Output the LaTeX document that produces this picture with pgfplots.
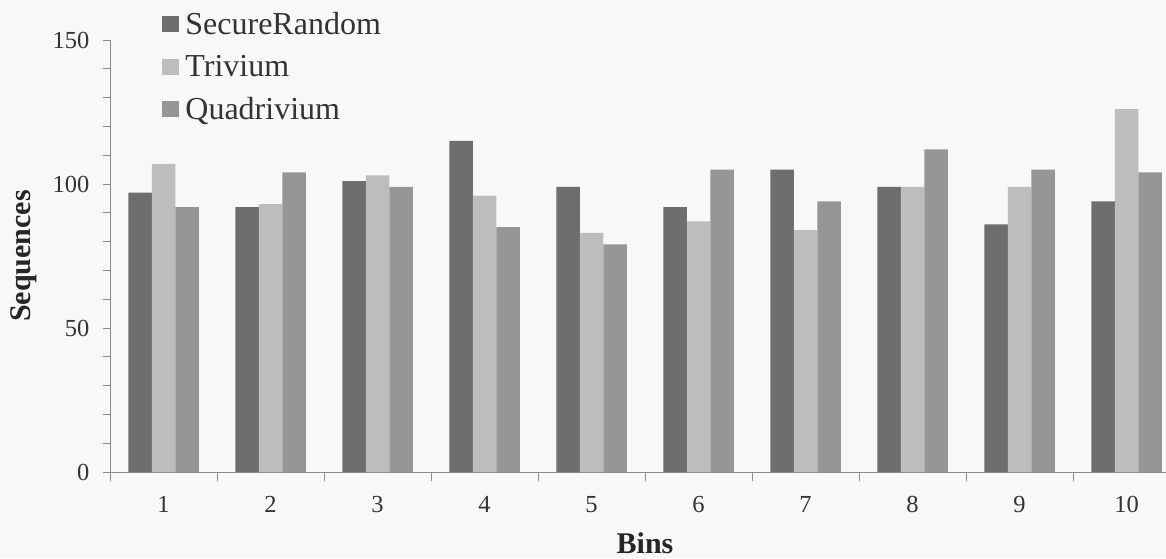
\documentclass[border=0pt]{standalone}
\usepackage{fontspec}
\setmainfont{Liberation Serif}
\usepackage{pgfplots}
\pgfplotsset{compat=1.18}
\definecolor{cSR}{HTML}{6E6E6E}
\definecolor{cTR}{HTML}{BDBDBD}
\definecolor{cQD}{HTML}{969696}
\definecolor{axgray}{HTML}{8A8A8A}
\definecolor{bgc}{HTML}{F8F8F8}
\begin{document}
\begin{tikzpicture}[x=1pt,y=1pt]
\useasboundingbox (0,0) rectangle (1166,558);
\clip (0,0) rectangle (1166,558);
\fill[bgc] (0,0) rectangle (1166,558);
\begin{axis}[
  at={(110pt,86pt)}, anchor=south west,
  scale only axis, width=1070pt, height=432pt,
  xmin=0.5, xmax=10.5, ymin=0, ymax=150,
  axis lines=left,
  axis line style={-, draw=axgray, line width=1pt},
  ybar=0pt, bar width=23.5pt,
  xtick={1,...,10},
  major x tick style={draw=none},
  minor xtick={0.5,1.5,...,10.5},
  ytick={0,10,...,150},
  yticklabels={0,,,,,50,,,,,100,,,,,150},
  tick align=outside,
  major tick length=7pt, minor tick length=9pt,
  tick style={draw=axgray, line width=1pt},
  every tick label/.append style={font=\fontsize{24.5}{28}\selectfont, text=black!80},
  xticklabel style={yshift=-14pt},
  yticklabel style={xshift=-10pt},
  /pgf/number format/assume math mode=true,
  xlabel={Bins}, ylabel={Sequences},
  label style={font=\fontsize{30}{34}\selectfont\bfseries, text=black!85},
  xlabel style={at={(axis description cs:0.5,0)}, anchor=base, yshift=-81pt},
  ylabel style={at={(axis description cs:0,0.5)}, anchor=center, yshift=86pt},
  legend style={at={(axis description cs:0.046,1.071)}, anchor=north west,
    draw=none, fill=none, font=\fontsize{32}{36}\selectfont, text=black!80,
    row sep=17pt, column sep=5pt, nodes={inner sep=1pt}},
  legend cell align=left,
  legend image code/.code={\fill[#1] (0pt,-8pt) rectangle (17pt,8pt);},
]
\addplot[fill=cSR, draw=none] coordinates {(1,97) (2,92) (3,101) (4,115) (5,99) (6,92) (7,105) (8,99) (9,86) (10,94)};
\addplot[fill=cTR, draw=none] coordinates {(1,107) (2,93) (3,103) (4,96) (5,83) (6,87) (7,84) (8,99) (9,99) (10,126)};
\addplot[fill=cQD, draw=none] coordinates {(1,92) (2,104) (3,99) (4,85) (5,79) (6,105) (7,94) (8,112) (9,105) (10,104)};
\legend{SecureRandom, Trivium, Quadrivium}
\end{axis}
\end{tikzpicture}
\end{document}
